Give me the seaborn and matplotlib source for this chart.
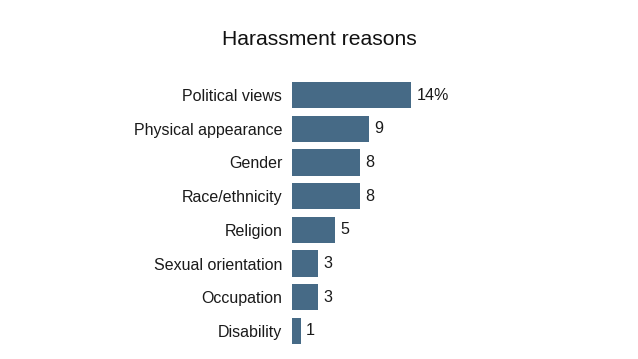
import seaborn as sns
import pandas as pd
import matplotlib.pyplot as plt

reasons = ['Political views', 'Physical appearance', 'Gender', 'Race/ethnicity',
           'Religion', 'Sexual orientation', 'Occupation', 'Disability']
shares = [14, 9, 8, 8, 5, 3, 3, 1]
value_labels = ['14%', '9', '8', '8', '5', '3', '3', '1']

df = pd.DataFrame({'reason': reasons, 'share': shares})

sns.set_style('white')
plt.rcParams['font.family'] = ['Liberation Sans', 'DejaVu Sans']

fig = plt.figure(figsize=(6.38, 3.59), dpi=100)
ax = fig.add_axes([0.4577, 0.0311, 0.2665, 0.7512])

sns.barplot(data=df, x='share', y='reason', color='#466a86', saturation=1,
            width=0.78, linewidth=0, ax=ax)

ax.bar_label(ax.containers[0], labels=value_labels, padding=4,
             fontsize=11.6, color='#1a1a1a')

ax.set_xlim(0, 20)
ax.set_xlabel('')
ax.set_ylabel('')
ax.set_xticks([])
ax.tick_params(axis='y', length=0, pad=7, labelsize=11.5, labelcolor='#1a1a1a')
sns.despine(ax=ax, left=True, bottom=True)

fig.text(0.5, 0.89, 'Harassment reasons', ha='center', va='center',
         fontsize=15.2, color='#111111')

plt.savefig('out.png', dpi=100)
